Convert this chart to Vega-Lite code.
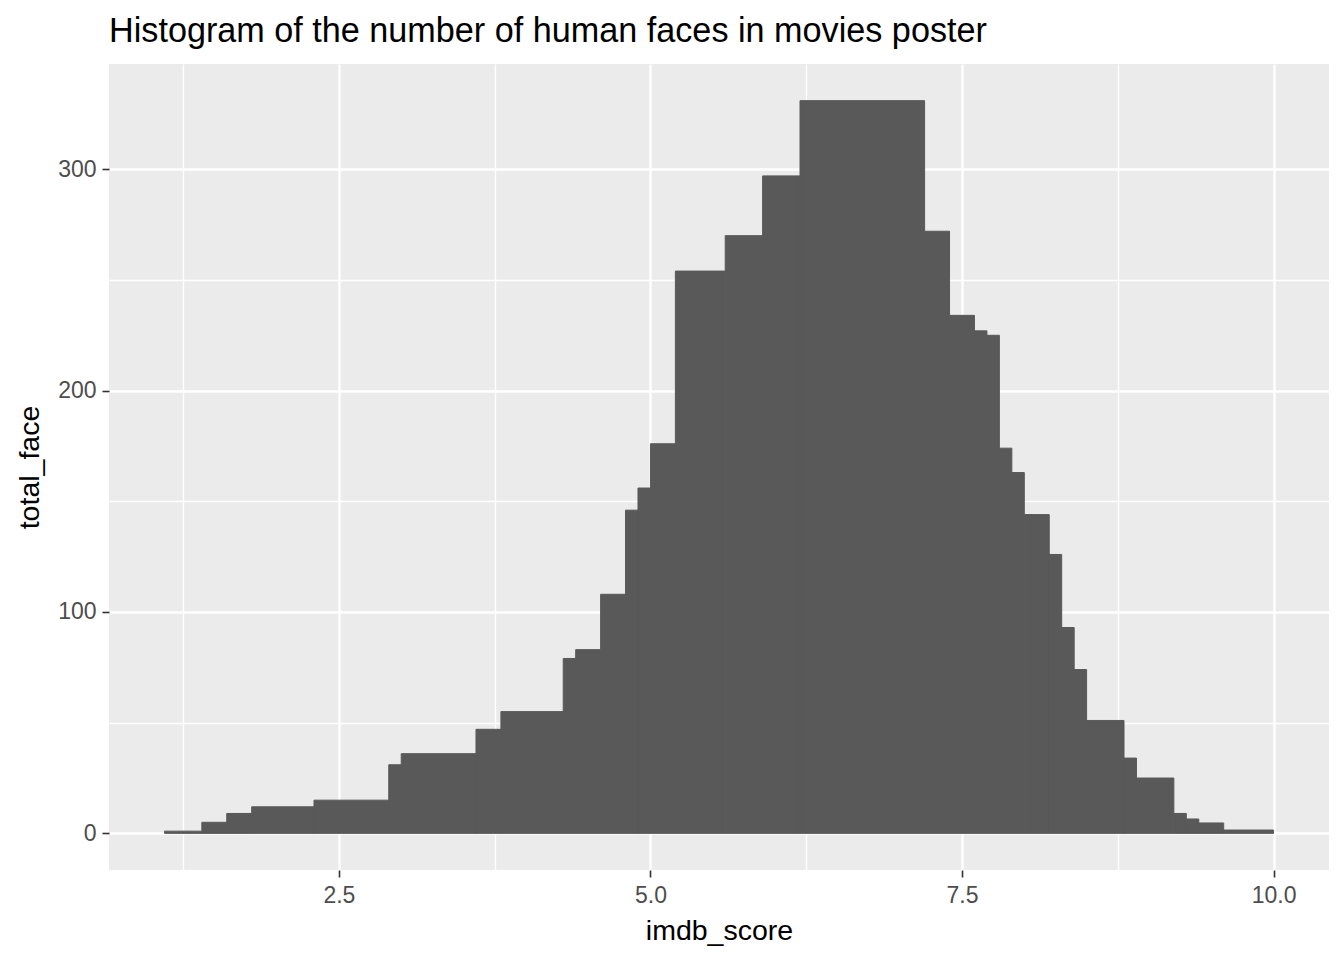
{
  "$schema": "https://vega.github.io/schema/vega-lite/v6.json",
  "autosize": {"type": "none"},
  "padding": {"left": 109, "top": 64, "right": 15, "bottom": 90},
  "width": 1220,
  "height": 806,
  "title": {
    "text": "Histogram of the number of human faces in movies poster",
    "anchor": "start",
    "frame": "group",
    "font": "Liberation Sans",
    "fontSize": 34.2,
    "fontWeight": "normal",
    "color": "#000000",
    "baseline": "alphabetic",
    "offset": -12
  },
  "config": {
    "view": {"fill": "#EBEBEB", "stroke": null},
    "axis": {
      "labelFont": "Liberation Sans",
      "titleFont": "Liberation Sans",
      "labelFontSize": 23,
      "titleFontSize": 28.5,
      "titleFontWeight": "normal",
      "labelColor": "#4D4D4D",
      "titleColor": "#000000",
      "tickColor": "#333333",
      "tickSize": 7,
      "tickWidth": 1.6,
      "domain": false,
      "gridColor": "#FFFFFF",
      "gridOpacity": 1,
      "labelFlush": false,
      "labelOverlap": false,
      "labelBound": false
    }
  },
  "data": {
    "values": [
      {"score_from": 1.1, "score_to": 1.4, "total_face": 1},
      {"score_from": 1.4, "score_to": 1.6, "total_face": 5},
      {"score_from": 1.6, "score_to": 1.8, "total_face": 9},
      {"score_from": 1.8, "score_to": 2.3, "total_face": 12},
      {"score_from": 2.3, "score_to": 2.9, "total_face": 15},
      {"score_from": 2.9, "score_to": 3.0, "total_face": 31},
      {"score_from": 3.0, "score_to": 3.6, "total_face": 36},
      {"score_from": 3.6, "score_to": 3.8, "total_face": 47},
      {"score_from": 3.8, "score_to": 4.3, "total_face": 55},
      {"score_from": 4.3, "score_to": 4.4, "total_face": 79},
      {"score_from": 4.4, "score_to": 4.6, "total_face": 83},
      {"score_from": 4.6, "score_to": 4.8, "total_face": 108},
      {"score_from": 4.8, "score_to": 4.9, "total_face": 146},
      {"score_from": 4.9, "score_to": 5.0, "total_face": 156},
      {"score_from": 5.0, "score_to": 5.2, "total_face": 176},
      {"score_from": 5.2, "score_to": 5.6, "total_face": 254},
      {"score_from": 5.6, "score_to": 5.9, "total_face": 270},
      {"score_from": 5.9, "score_to": 6.2, "total_face": 297},
      {"score_from": 6.2, "score_to": 7.2, "total_face": 331},
      {"score_from": 7.2, "score_to": 7.4, "total_face": 272},
      {"score_from": 7.4, "score_to": 7.6, "total_face": 234},
      {"score_from": 7.6, "score_to": 7.7, "total_face": 227},
      {"score_from": 7.7, "score_to": 7.8, "total_face": 225},
      {"score_from": 7.8, "score_to": 7.9, "total_face": 174},
      {"score_from": 7.9, "score_to": 8.0, "total_face": 163},
      {"score_from": 8.0, "score_to": 8.2, "total_face": 144},
      {"score_from": 8.2, "score_to": 8.3, "total_face": 126},
      {"score_from": 8.3, "score_to": 8.4, "total_face": 93},
      {"score_from": 8.4, "score_to": 8.5, "total_face": 74},
      {"score_from": 8.5, "score_to": 8.8, "total_face": 51},
      {"score_from": 8.8, "score_to": 8.9, "total_face": 34},
      {"score_from": 8.9, "score_to": 9.2, "total_face": 25},
      {"score_from": 9.2, "score_to": 9.3, "total_face": 9},
      {"score_from": 9.3, "score_to": 9.4, "total_face": 6.5},
      {"score_from": 9.4, "score_to": 9.6, "total_face": 4.7},
      {"score_from": 9.6, "score_to": 10.0, "total_face": 1.5}
    ]
  },
  "layer": [
    {
      "mark": {"type": "rect", "fillOpacity": 0, "strokeWidth": 0},
      "encoding": {
        "x": {
          "field": "score_from",
          "type": "quantitative",
          "scale": {"domain": [0.655, 10.445], "nice": false, "zero": false},
          "axis": {"orient": "top", "values": [1.25, 3.75, 6.25, 8.75], "grid": true, "gridWidth": 1.3, "labels": false, "ticks": false, "title": null}
        },
        "x2": {"field": "score_to"},
        "y": {
          "field": "total_face",
          "type": "quantitative",
          "scale": {"domain": [-16.55, 347.55], "nice": false, "zero": false},
          "axis": {"orient": "right", "values": [50, 150, 250], "grid": true, "gridWidth": 1.3, "labels": false, "ticks": false, "title": null}
        },
        "y2": {"datum": 0}
      }
    },
    {
      "mark": {"type": "rect", "fill": "#595959", "stroke": "#595959", "strokeWidth": 1},
      "encoding": {
        "x": {
          "field": "score_from",
          "type": "quantitative",
          "scale": {"domain": [0.655, 10.445], "nice": false, "zero": false},
          "axis": {"orient": "bottom", "values": [2.5, 5, 7.5, 10], "format": ".1f", "grid": true, "gridWidth": 2.4, "labelPadding": 7, "title": "imdb_score", "titlePadding": 9}
        },
        "x2": {"field": "score_to"},
        "y": {
          "field": "total_face",
          "type": "quantitative",
          "scale": {"domain": [-16.55, 347.55], "nice": false, "zero": false},
          "axis": {"orient": "left", "values": [0, 100, 200, 300], "grid": true, "gridWidth": 2.4, "labelPadding": 6, "title": "total_face", "titlePadding": 13}
        },
        "y2": {"datum": 0}
      }
    }
  ],
  "resolve": {"axis": {"x": "independent", "y": "independent"}}
}
